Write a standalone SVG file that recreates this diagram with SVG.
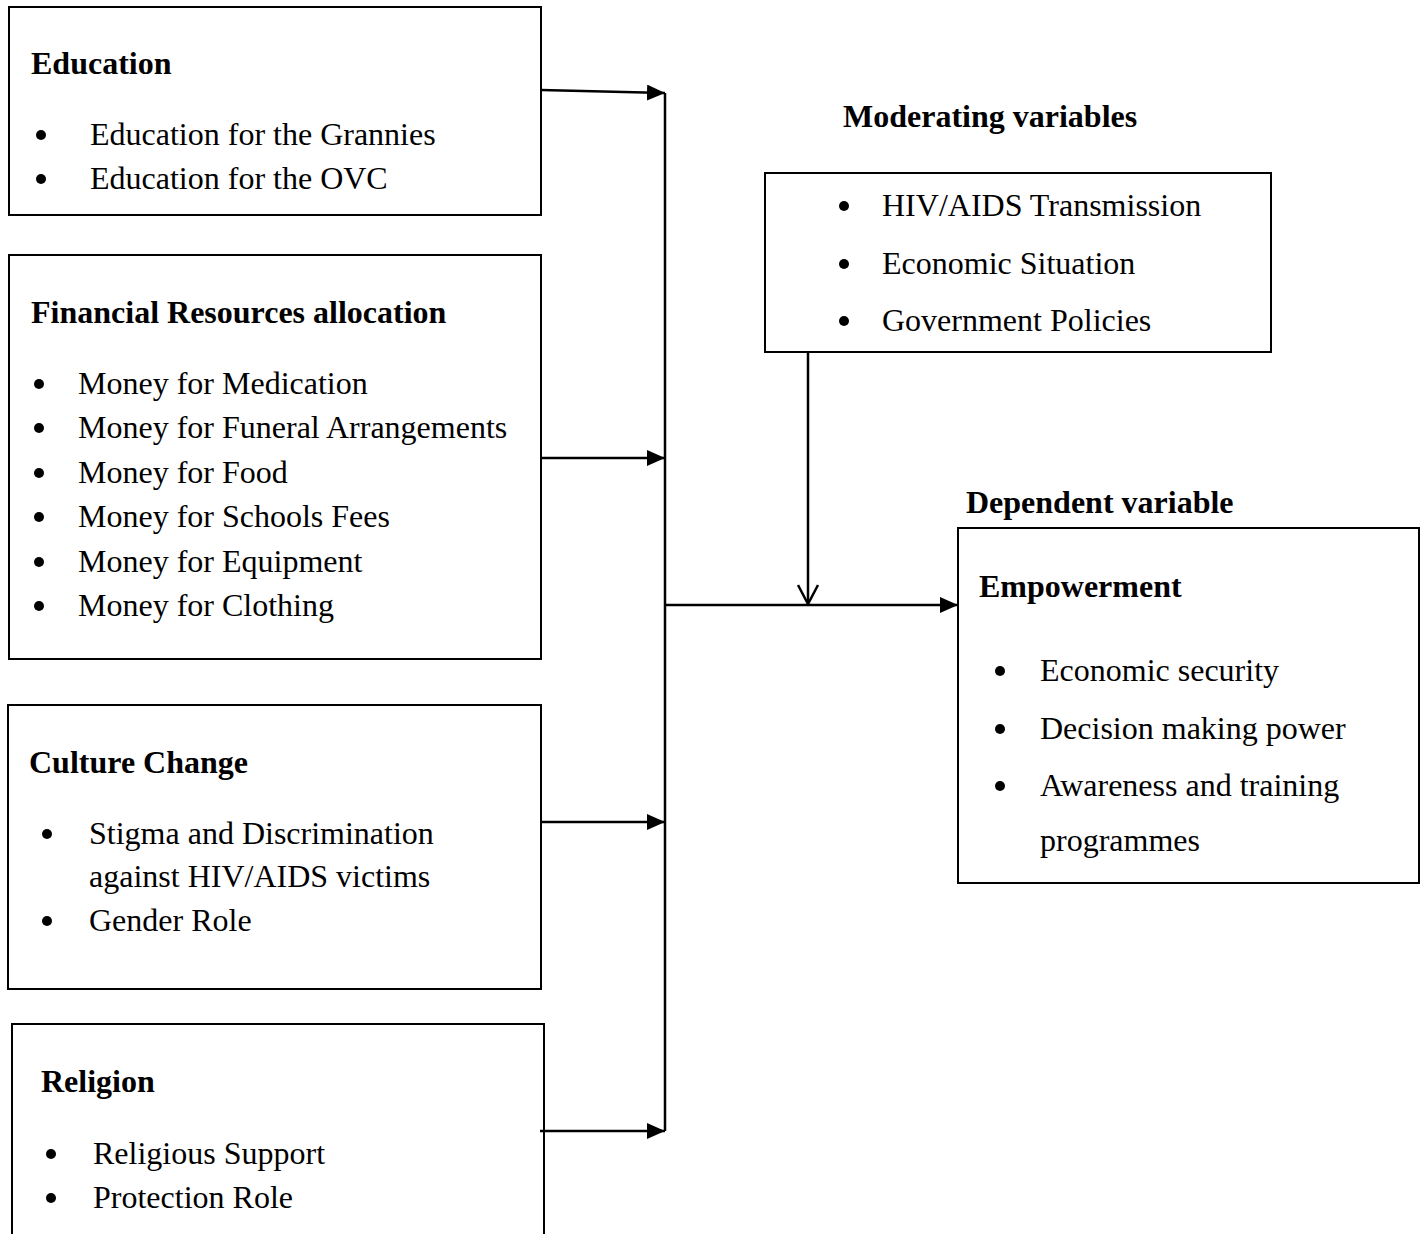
<svg xmlns="http://www.w3.org/2000/svg" width="1421" height="1234" viewBox="0 0 1421 1234">
<style>
.box{fill:#fff;stroke:#000;stroke-width:2}
.t{font-family:"Liberation Serif","Times New Roman",serif;font-size:32px;fill:#000}
.b{font-weight:bold}
.ln{stroke:#000;stroke-width:2.5;fill:none}
</style>
<defs>
<marker id="ah" markerWidth="18" markerHeight="16" refX="18" refY="8" orient="auto" markerUnits="userSpaceOnUse">
<path d="M0,0 L18,8 L0,16 Z" fill="#000"/>
</marker>
<marker id="va" markerWidth="22" markerHeight="21" refX="11" refY="20" orient="0" markerUnits="userSpaceOnUse">
<path d="M1,1 L11,20 L21,1" fill="none" stroke="#000" stroke-width="2.5"/>
</marker>
</defs>
<rect width="1421" height="1234" fill="#fff"/>

<g id="education">
<rect class="box" x="9" y="7" width="532" height="208"/>
<text class="t b" x="31" y="74">Education</text>
<circle cx="41" cy="135" r="5"/><text class="t" x="90" y="145">Education for the Grannies</text>
<circle cx="41" cy="179" r="5"/><text class="t" x="90" y="189">Education for the OVC</text>
</g>

<g id="financial">
<rect class="box" x="9" y="255" width="532" height="404"/>
<text class="t b" x="31" y="323">Financial Resources allocation</text>
<circle cx="39" cy="384" r="5"/><text class="t" x="78" y="394">Money for Medication</text>
<circle cx="39" cy="428" r="5"/><text class="t" x="78" y="438">Money for Funeral Arrangements</text>
<circle cx="39" cy="473" r="5"/><text class="t" x="78" y="483">Money for Food</text>
<circle cx="39" cy="517" r="5"/><text class="t" x="78" y="527">Money for Schools Fees</text>
<circle cx="39" cy="562" r="5"/><text class="t" x="78" y="572">Money for Equipment</text>
<circle cx="39" cy="606" r="5"/><text class="t" x="78" y="616">Money for Clothing</text>
</g>

<g id="culture">
<rect class="box" x="8" y="705" width="533" height="284"/>
<text class="t b" x="29" y="773">Culture Change</text>
<circle cx="47" cy="834" r="5"/><text class="t" x="89" y="844">Stigma and Discrimination</text>
<text class="t" x="89" y="887">against HIV/AIDS victims</text>
<circle cx="47" cy="921" r="5"/><text class="t" x="89" y="931">Gender Role</text>
</g>

<g id="religion">
<path class="box" d="M12,1236 L12,1024 L544,1024 L544,1236"/>
<text class="t b" x="41" y="1092">Religion</text>
<circle cx="51" cy="1154" r="5"/><text class="t" x="93" y="1164">Religious Support</text>
<circle cx="51" cy="1198" r="5"/><text class="t" x="93" y="1208">Protection Role</text>
</g>

<g id="moderating">
<text class="t b" x="843" y="127">Moderating variables</text>
<rect class="box" x="765" y="173" width="506" height="179"/>
<circle cx="844" cy="206" r="5"/><text class="t" x="882" y="216">HIV/AIDS Transmission</text>
<circle cx="844" cy="264" r="5"/><text class="t" x="882" y="274">Economic Situation</text>
<circle cx="844" cy="321" r="5"/><text class="t" x="882" y="331">Government Policies</text>
</g>

<g id="dependent">
<text class="t b" x="966" y="513">Dependent variable</text>
<rect class="box" x="958" y="528" width="461" height="355"/>
<text class="t b" x="979" y="597">Empowerment</text>
<circle cx="1000" cy="671" r="5"/><text class="t" x="1040" y="681">Economic security</text>
<circle cx="1000" cy="729" r="5"/><text class="t" x="1040" y="739">Decision making power</text>
<circle cx="1000" cy="786" r="5"/><text class="t" x="1040" y="796">Awareness and training</text>
<text class="t" x="1040" y="851">programmes</text>
</g>

<g id="connectors">
<line class="ln" x1="665" y1="93" x2="665" y2="1131"/>
<line class="ln" x1="541" y1="90" x2="665" y2="93" marker-end="url(#ah)"/>
<line class="ln" x1="541" y1="458" x2="665" y2="458" marker-end="url(#ah)"/>
<line class="ln" x1="541" y1="822" x2="665" y2="822" marker-end="url(#ah)"/>
<line class="ln" x1="540" y1="1131" x2="665" y2="1131" marker-end="url(#ah)"/>
<line class="ln" x1="665" y1="605" x2="958" y2="605" marker-end="url(#ah)"/>
<line class="ln" x1="808" y1="352" x2="808" y2="604" marker-end="url(#va)"/>
</g>
</svg>
